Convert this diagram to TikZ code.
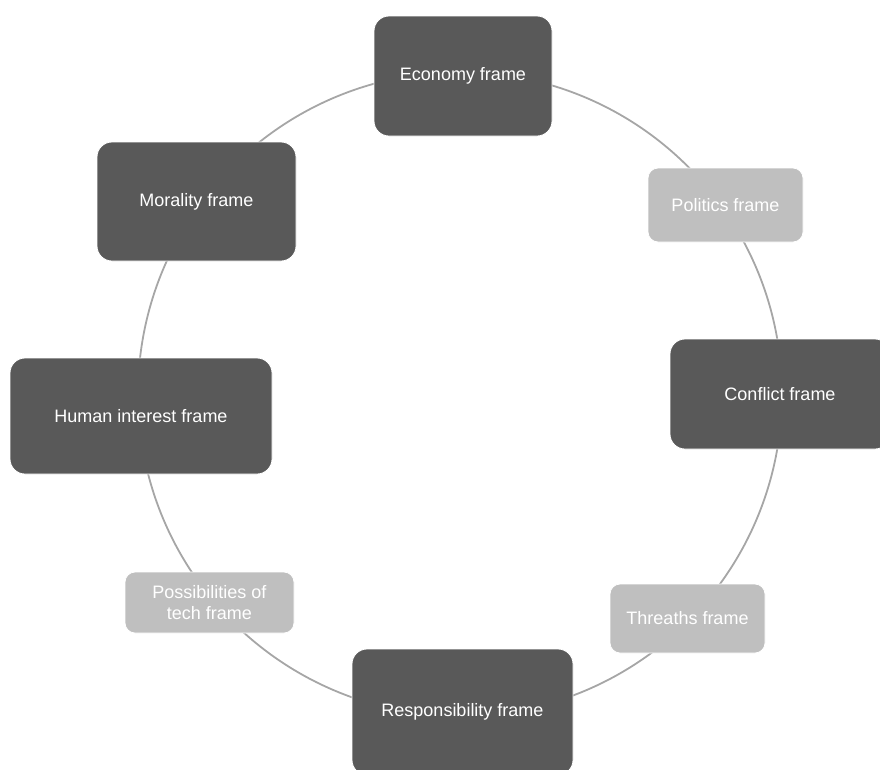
\documentclass[tikz,border=0pt]{standalone}
\usepackage{fontspec}
\setmainfont{Liberation Sans}
\usetikzlibrary{calc,backgrounds}
\definecolor{darkframe}{HTML}{595959}
\definecolor{lightframe}{HTML}{BFBFBF}
\definecolor{cycleline}{HTML}{A6A6A6}

\begin{document}
\begin{tikzpicture}[x=1pt,y=1pt,
  frame/.style={rectangle,draw=white,line width=0.8pt,text=white,inner sep=0pt,align=center,font=\fontsize{18}{21}\selectfont},
  bigframe/.style={frame,fill=darkframe,rounded corners=15pt},
  smallframe/.style={frame,fill=lightframe,rounded corners=10pt},
  link/.style={cycleline,line width=1.8pt}]
\useasboundingbox (0,0) rectangle (880,-769);
\coordinate (hub) at (460,-394);
% the eight frames, clockwise from the top
\node[bigframe,minimum width=178pt,minimum height=120pt] (econ) at (463,-76) {Economy frame};
\node[smallframe,minimum width=155pt,minimum height=74pt] (pol) at (725.5,-205) {Politics frame};
\node[bigframe,minimum width=220pt,minimum height=110pt] (confl) at (780,-394) {Conflict frame};
\node[smallframe,minimum width=155pt,minimum height=69pt] (threat) at (687.5,-618.5) {Threaths frame};
\node[bigframe,minimum width=221pt,minimum height=126pt] (resp) at (462.5,-712) {Responsibility frame};
\node[smallframe,minimum width=169pt,minimum height=61pt] (tech) at (209.5,-602.5) {Possibilities of\\tech frame};
\node[bigframe,minimum width=262pt,minimum height=116pt] (human) at (141,-416) {Human interest frame};
\node[bigframe,minimum width=199pt,minimum height=119pt] (moral) at (196.5,-201.5) {Morality frame};
% cycle, arcs round the hub from frame to frame
\begin{scope}[on background layer]
\foreach \from/\to in {econ/pol,pol/confl,confl/threat,threat/resp,resp/tech,tech/human,human/moral,moral/econ}
  \draw[link] let \p1=($(\from)-(hub)$), \p2=($(\to)-(hub)$),
    \n1={atan2(\y1,\x1)}, \n2={atan2(\y2,\x2)}, \n3={\n1-mod(\n1-\n2+360,360)} in
    ($(hub)+(\n1:322pt)$) arc[start angle=\n1,end angle=\n3,radius=322pt];
\end{scope}
\end{tikzpicture}
\end{document}
